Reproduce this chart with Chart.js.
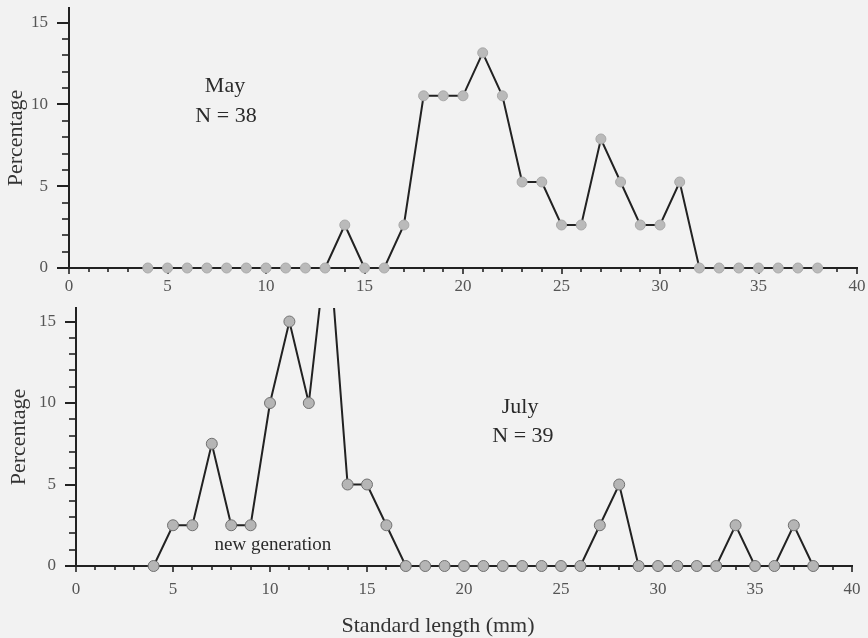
<!DOCTYPE html>
<html>
<head>
<meta charset="utf-8">
<script src="https://cdn.jsdelivr.net/npm/chart.js@4.4.0/dist/chart.umd.min.js"></script>
<style>
html, body { margin: 0; padding: 0; background: #f2f2f2; }
#wrap { position: relative; width: 868px; height: 638px; overflow: hidden; background: #f2f2f2; }
#c1 { position: absolute; left: 0; top: 0; }
#c2 { position: absolute; left: 0; top: 300px; }
#xtitle { position: absolute; left: 0; width: 876px; top: 612px; line-height: 26px; text-align: center;
  font-family: "Liberation Serif", "Times New Roman", serif; font-size: 22px; color: #333; }
</style>
</head>
<body>
<div id="wrap">
  <canvas id="c1" width="868" height="300"></canvas>
  <canvas id="c2" width="868" height="338"></canvas>
  <div id="xtitle">Standard length (mm)</div>
</div>
<script>
// ---- data ----
const lengths = [4,5,6,7,8,9,10,11,12,13,14,15,16,17,18,19,20,21,22,23,24,25,26,27,28,29,30,31,32,33,34,35,36,37,38];
const mayPct  = [0,0,0,0,0,0,0,0,0,0,2.63,0,0,2.63,10.53,10.53,10.53,13.16,10.53,5.26,5.26,2.63,2.63,7.89,5.26,2.63,2.63,5.26,0,0,0,0,0,0,0];
const julyPct = [0,2.5,2.5,7.5,2.5,2.5,10,15,10,20.5,5,5,2.5,0,0,0,0,0,0,0,0,0,0,2.5,5,0,0,0,0,0,2.5,0,0,2.5,0];
const xTickLabels = ['0','5','10','15','20','25','30','35','40'];
const yTickLabels = ['0','5','10','15'];

const SERIF = '"Liberation Serif", "Times New Roman", serif';
Chart.defaults.font.family = SERIF;

// Tick marks drawn through the chart's own scales (major/minor lengths)
const axisTicks = {
  id: 'axisTicks',
  beforeDatasetsDraw(chart, args, o) {
    const { ctx, chartArea: a, scales: { x, y } } = chart;
    ctx.save();
    ctx.strokeStyle = '#222';
    ctx.lineCap = 'butt';
    for (let v = 0; v <= Math.floor(y.max); v++) {
      const py = Math.round(y.getPixelForValue(v));
      const major = yTickLabels.includes(String(v));
      ctx.lineWidth = major ? 2 : 1.6;
      ctx.beginPath();
      ctx.moveTo(a.left - (major ? o.yMajor : o.yMinor), py);
      ctx.lineTo(a.left, py);
      ctx.stroke();
    }
    for (let v = x.min; v <= x.max; v++) {
      const px = Math.round(x.getPixelForValue(v));
      const major = xTickLabels.includes(String(v));
      ctx.lineWidth = 1.6;
      ctx.beginPath();
      ctx.moveTo(px, a.bottom);
      ctx.lineTo(px, a.bottom + (major ? o.xMajor : o.xMinor));
      ctx.stroke();
    }
    ctx.restore();
  }
};

// Free text placed in data coordinates
const notes = {
  id: 'notes',
  afterDraw(chart, args, o) {
    const { ctx, scales: { x, y } } = chart;
    ctx.save();
    ctx.fillStyle = '#2a2a2a';
    ctx.textAlign = 'center';
    ctx.textBaseline = 'alphabetic';
    (o.items || []).forEach(it => {
      ctx.font = it.size + 'px ' + SERIF;
      ctx.fillText(it.text, x.getPixelForValue(it.x), y.getPixelForValue(it.y));
    });
    ctx.restore();
  }
};

function makeChart(canvasId, values, cfg) {
  return new Chart(document.getElementById(canvasId), {
    type: 'line',
    data: {
      datasets: [{
        data: lengths.map((l, i) => ({ x: l, y: values[i] })),
        borderColor: '#222',
        borderWidth: 2,
        tension: 0,
        pointRadius: cfg.pointRadius,
        pointBackgroundColor: cfg.pointFill,
        pointBorderColor: cfg.pointBorder,
        pointBorderWidth: 1,
        clip: { left: 20, right: 20, top: 0, bottom: 20 }
      }]
    },
    options: {
      responsive: false,
      animation: false,
      devicePixelRatio: 1,
      layout: { padding: { left: 0, right: cfg.padRight, top: 8, bottom: 0 } },
      plugins: {
        legend: { display: false },
        tooltip: { enabled: false },
        title: { display: false },
        axisTicks: cfg.ticks,
        notes: { items: cfg.notes }
      },
      scales: {
        x: {
          type: 'linear', min: 0, max: 40,
          afterBuildTicks: s => { s.ticks = s.ticks.filter(t => Number.isInteger(t.value)); },
          afterFit: s => { s.height = cfg.xHeight; s.paddingLeft = 0; s.paddingRight = 0; },
          ticks: {
            stepSize: 1, autoSkip: false, maxRotation: 0, minRotation: 0, padding: 0,
            callback: v => xTickLabels.includes(String(v)) ? String(v) : '',
            font: { family: SERIF, size: 17 }, color: '#555'
          },
          grid: { display: true, drawOnChartArea: false, drawTicks: true, tickLength: cfg.xGap, tickColor: 'rgba(0,0,0,0)' },
          border: { display: true, color: '#222', width: 2 }
        },
        y: {
          type: 'linear', min: 0, max: cfg.yMax,
          afterBuildTicks: s => { s.ticks = s.ticks.filter(t => Number.isInteger(t.value)); },
          afterFit: s => { s.width = cfg.yWidth; s.paddingTop = 0; s.paddingBottom = 0; },
          ticks: {
            stepSize: 1, autoSkip: false, padding: 0, includeBounds: false,
            callback: v => yTickLabels.includes(String(v)) ? String(v) : '',
            font: { family: SERIF, size: 17 }, color: '#555'
          },
          grid: { display: true, drawOnChartArea: false, drawTicks: true, tickLength: cfg.yGap, tickColor: 'rgba(0,0,0,0)' },
          border: { display: true, color: '#222', width: 2 },
          title: { display: true, text: 'Percentage', color: '#333',
                   font: { family: SERIF, size: 22 }, padding: { top: cfg.yTitlePad, bottom: 0 } }
        }
      }
    },
    plugins: [axisTicks, notes]
  });
}

makeChart('c1', mayPct, {
  pointRadius: 5, pointFill: '#bababa', pointBorder: '#a8a8a8',
  padRight: 11, xHeight: 32, xGap: 8, yMax: 15.9, yWidth: 69, yGap: 21, yTitlePad: 3,
  ticks: { yMajor: 12, yMinor: 7, xMajor: 6, xMinor: 4 },
  notes: [
    { text: 'May', x: 7.92, y: 10.78, size: 22 },
    { text: 'N = 38', x: 7.97, y: 8.95, size: 22 }
  ]
});

makeChart('c2', julyPct, {
  pointRadius: 5.5, pointFill: '#b5b5b5', pointBorder: '#707070',
  padRight: 16, xHeight: 72, xGap: 13, yMax: 15.83, yWidth: 76, yGap: 20, yTitlePad: 6,
  ticks: { yMajor: 11, yMinor: 7, xMajor: 6, xMinor: 4 },
  notes: [
    { text: 'July', x: 22.89, y: 9.39, size: 22 },
    { text: 'N = 39', x: 23.04, y: 7.61, size: 22 },
    { text: 'new generation', x: 10.15, y: 0.98, size: 19 }
  ]
});
</script>
</body>
</html>
